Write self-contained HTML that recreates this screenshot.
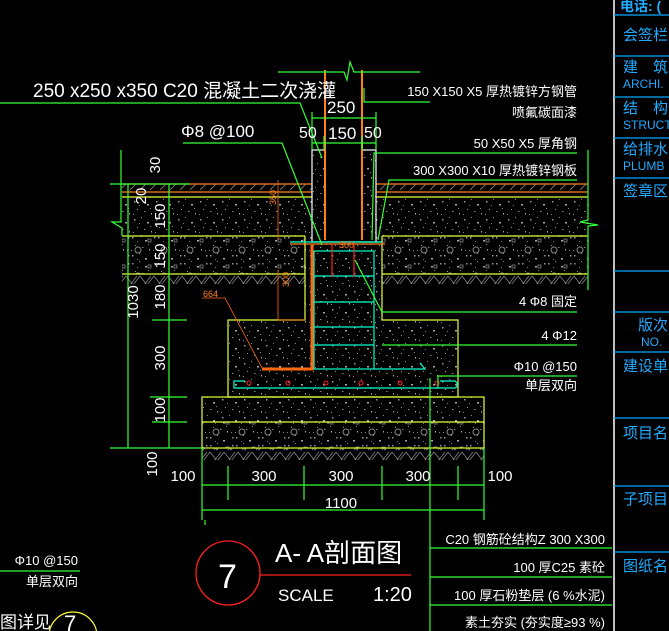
<!DOCTYPE html>
<html><head><meta charset="utf-8"><style>
html,body{margin:0;padding:0;background:#000;}
svg{display:block}
text{font-family:"Liberation Sans","Noto Sans CJK SC",sans-serif;}
</style></head><body>
<svg width="669" height="631" viewBox="0 0 669 631" xmlns="http://www.w3.org/2000/svg">
<defs>
<pattern id="conc" width="22" height="18" patternUnits="userSpaceOnUse">
<rect x="2" y="3" width="1.5" height="1.5" fill="#999"/><rect x="9" y="1" width="1" height="1" fill="#888"/>
<rect x="15" y="6" width="2" height="1.5" fill="#aaa"/><rect x="5" y="11" width="1" height="1" fill="#999"/>
<rect x="12" y="13" width="1.5" height="1" fill="#888"/><rect x="19" y="15" width="1" height="1.5" fill="#aaa"/>
<rect x="7" y="7" width="1" height="1" fill="#777"/><rect x="18" y="10" width="1" height="1" fill="#888"/>
<rect x="1" y="16" width="1" height="1" fill="#888"/>
</pattern>
<pattern id="grav" width="26" height="26" patternUnits="userSpaceOnUse">
<rect width="26" height="26" fill="url(#conc)"/>
<circle cx="8" cy="16" r="3" fill="none" stroke="#888" stroke-width="1"/>
<rect x="18" y="5" width="3" height="3" fill="none" stroke="#888" stroke-width="0.8"/>
</pattern>
<pattern id="hatch" width="10" height="10" patternUnits="userSpaceOnUse">
<path d="M0 10 L8 2" stroke="#888" stroke-width="0.8"/>
</pattern>
<pattern id="zz" width="14" height="11" patternUnits="userSpaceOnUse">
<path d="M0 1 L7 10 L14 1 M4 10 L11 1" stroke="#888" stroke-width="0.8" fill="none"/>
</pattern>
</defs>

<!-- ground layers -->
<rect x="122" y="184" width="466" height="8" fill="url(#hatch)"/>
<rect x="122" y="197" width="466" height="39" fill="url(#conc)"/>
<rect x="122" y="236" width="466" height="38" fill="url(#grav)"/>
<rect x="122" y="274" width="183" height="10" fill="url(#zz)"/>
<rect x="382" y="274" width="206" height="10" fill="url(#zz)"/>
<!-- pedestal & footing -->
<rect x="305" y="236" width="77" height="84" fill="#000"/>
<rect x="305" y="236" width="77" height="84" fill="url(#conc)"/>
<rect x="228" y="320" width="230" height="77" fill="url(#conc)"/>
<rect x="202" y="397" width="282" height="25" fill="url(#conc)"/>
<rect x="202" y="422" width="282" height="26" fill="url(#grav)"/>
<rect x="202" y="448" width="282" height="12" fill="url(#zz)"/>
<!-- column sleeve -->
<rect x="312" y="150" width="64" height="92" fill="#000"/>
<rect x="312" y="152" width="12" height="88" fill="url(#conc)"/>
<rect x="362" y="152" width="14" height="88" fill="url(#conc)"/>

<g fill="none" stroke-width="1.2">
<line x1="122" y1="184" x2="312" y2="184" stroke="#ff7f1e"/>
<line x1="376" y1="184" x2="588" y2="184" stroke="#ff7f1e"/>
<line x1="122" y1="192" x2="312" y2="192" stroke="#ff7f1e"/>
<line x1="376" y1="192" x2="588" y2="192" stroke="#ff7f1e"/>
<line x1="122" y1="197" x2="312" y2="197" stroke="#e6ff3a"/>
<line x1="376" y1="197" x2="588" y2="197" stroke="#e6ff3a"/>
<line x1="122" y1="236" x2="305" y2="236" stroke="#e6ff3a"/>
<line x1="382" y1="236" x2="588" y2="236" stroke="#e6ff3a"/>
<line x1="122" y1="274" x2="305" y2="274" stroke="#e6ff3a"/>
<line x1="382" y1="274" x2="588" y2="274" stroke="#e6ff3a"/>
<polyline points="305,236 305,320 228,320 228,397 458,397 458,320 382,320 382,236" stroke="#e6ff3a"/>
<rect x="202" y="397" width="282" height="51" stroke="#e6ff3a"/>
<line x1="202" y1="422" x2="484" y2="422" stroke="#e6ff3a"/>
<!-- sleeve white -->
<polyline points="312,150 312,242 380,242 376,242 376,150" stroke="#fff"/>
<line x1="312" y1="150" x2="324" y2="150" stroke="#fff"/>
<line x1="362" y1="150" x2="376" y2="150" stroke="#fff"/>
<!-- column orange -->
<line x1="325" y1="70" x2="325" y2="240" stroke="#ff7f1e" stroke-width="2"/>
<line x1="362" y1="70" x2="362" y2="240" stroke="#ff7f1e" stroke-width="2"/>
<polyline points="278,72 344,72 347,80 350,62 354,72 420,72" stroke="#33ff33"/>
<!-- plate -->
<line x1="290" y1="242" x2="382" y2="242" stroke="#00ffcc"/>
<line x1="290" y1="244" x2="385" y2="244" stroke="#ff7f1e"/>
<!-- stirrups -->
<rect x="314" y="251" width="60" height="118" stroke="#00ffcc"/>
<line x1="314" y1="276" x2="374" y2="276" stroke="#00ffcc"/>
<line x1="314" y1="302" x2="374" y2="302" stroke="#00ffcc"/>
<line x1="314" y1="327" x2="374" y2="327" stroke="#00ffcc"/>
<line x1="314" y1="345" x2="374" y2="345" stroke="#00ffcc"/>
<polyline points="374,369 425,369 420,363" stroke="#00ffcc"/>
<path d="M245 381 L234 381 L234 388 L455 388 Q460 385 455 381 L440 381" stroke="#00ffcc"/>
<line x1="332" y1="243" x2="332" y2="277" stroke="#ff2020"/>
<line x1="354" y1="243" x2="354" y2="277" stroke="#ff2020"/>
<!-- orange bent bar -->
<polyline points="312,245 312,369 262,369" stroke="#ff6a10" stroke-width="3"/>
<polyline points="278,270 278,320 305,320" stroke="#ff6a10" stroke-width="0.8"/>
<line x1="278" y1="180" x2="278" y2="240" stroke="#ff6a10" stroke-width="0.8"/>
<polyline points="202,298 225,298 262,368" stroke="#ff6a10" stroke-width="0.8"/>
<!-- red dots -->
<g stroke="#ff2020" stroke-width="1"><circle cx="249" cy="383" r="2"/><circle cx="288" cy="383" r="2"/><circle cx="326" cy="383" r="2"/><circle cx="361" cy="383" r="2"/><circle cx="400" cy="383" r="2"/><circle cx="437" cy="383" r="2"/></g>

<!-- leaders -->
<g stroke="#33ff33">
<polyline points="0,103 300,103 322,158"/>
<polyline points="183,143 282,143 322,245"/>
<polyline points="430,102 364,102 364,88"/>
<polyline points="577,153 374,153 372,240"/>
<polyline points="577,180 389,180 378,240"/>
<polyline points="577,312 382,312 355,260"/>
<line x1="382" y1="345" x2="577" y2="345"/>
<polyline points="577,376 438,376 438,388"/>
<line x1="430" y1="378" x2="430" y2="631"/>
<line x1="312" y1="118" x2="376" y2="118"/><line x1="312" y1="143" x2="376" y2="143"/>
<line x1="312" y1="112" x2="312" y2="150"/><line x1="376" y1="112" x2="376" y2="150"/>
<line x1="324" y1="136" x2="324" y2="150"/><line x1="362" y1="136" x2="362" y2="150"/>
<!-- left dims -->
<line x1="128" y1="184" x2="128" y2="448"/><line x1="169" y1="184" x2="169" y2="448"/>
<line x1="110" y1="184" x2="190" y2="184"/>
<line x1="110" y1="448" x2="202" y2="448"/>
<line x1="152" y1="320" x2="187" y2="320"/><line x1="150" y1="397" x2="187" y2="397"/><line x1="152" y1="422" x2="187" y2="422"/>
<polyline points="121,150 121,222 112,222 122,228 122,236"/>
<polyline points="588,150 588,220 580,222 598,225 588,226 588,290"/>
<!-- bottom dims -->
<line x1="202" y1="448" x2="202" y2="520"/><line x1="484" y1="448" x2="484" y2="520"/>
<line x1="228" y1="466" x2="228" y2="500"/><line x1="304" y1="466" x2="304" y2="500"/>
<line x1="382" y1="466" x2="382" y2="500"/><line x1="458" y1="466" x2="458" y2="500"/>
<line x1="202" y1="485" x2="484" y2="485"/><line x1="202" y1="510" x2="484" y2="510"/>
<!-- bottom right table -->
<line x1="430" y1="548" x2="612" y2="548"/><line x1="430" y1="577" x2="612" y2="577"/><line x1="430" y1="605" x2="612" y2="605"/>
<line x1="0" y1="571" x2="80" y2="571"/>
<line x1="205" y1="520" x2="205" y2="525"/>
</g>

<!-- right title panel -->
<line x1="614" y1="0" x2="614" y2="631" stroke="#fff" stroke-width="1.5"/>
<g stroke="#00aaff">
<line x1="614" y1="15" x2="669" y2="15"/><line x1="614" y1="56" x2="669" y2="56"/><line x1="614" y1="97" x2="669" y2="97"/>
<line x1="614" y1="138" x2="669" y2="138"/><line x1="614" y1="178" x2="669" y2="178"/><line x1="614" y1="271" x2="669" y2="271"/>
<line x1="614" y1="312" x2="669" y2="312"/><line x1="614" y1="352" x2="669" y2="352"/><line x1="614" y1="418" x2="669" y2="418"/>
<line x1="614" y1="486" x2="669" y2="486"/><line x1="614" y1="552" x2="669" y2="552"/>
</g>
<g fill="#22aaff" font-size="15">
<text x="620" y="11" font-weight="bold" font-size="14">电话: (</text>
<text x="623" y="40">会签栏</text>
<text x="623" y="72">建　筑</text><text x="623" y="88" font-size="12">ARCHI.</text>
<text x="623" y="113">结　构</text><text x="623" y="129" font-size="12">STRUCT</text>
<text x="623" y="154">给排水</text><text x="623" y="170" font-size="12">PLUMB</text>
<text x="623" y="196">签章区</text>
<text x="638" y="330">版次</text><text x="641" y="346" font-size="12">NO.</text>
<text x="623" y="371">建设单</text><text x="623" y="438">项目名</text>
<text x="623" y="504">子项目</text><text x="623" y="571">图纸名</text>
</g>

<!-- texts -->
<g fill="#fff">
<text x="33" y="97" font-size="19">250 x250 x350  C20 混凝土二次浇灌</text>
<text x="181" y="137" font-size="17">Φ8 @100</text>
<text x="327" y="113" font-size="17">250</text>
<text x="299" y="138" font-size="16">50</text><text x="328" y="139" font-size="17">150</text><text x="364" y="138" font-size="16">50</text>
<g font-size="13" text-anchor="end">
<text x="577" y="96">150 X150 X5 厚热镀锌方钢管</text>
<text x="577" y="117">喷氟碳面漆</text>
<text x="577" y="148">50 X50 X5 厚角钢</text>
<text x="577" y="175">300 X300 X10 厚热镀锌钢板</text>
<text x="577" y="306">4 Φ8 固定</text>
<text x="577" y="340">4 Φ12</text>
<text x="577" y="371">Φ10 @150</text>
<text x="577" y="390">单层双向</text>
<text x="605" y="544">C20 钢筋砼结构Z  300 X300</text>
<text x="605" y="572">100 厚C25 素砼</text>
<text x="605" y="600">100 厚石粉垫层 (6 %水泥)</text>
<text x="605" y="627">素土夯实 (夯实度≥93 %)</text>
<text x="78" y="565">Φ10 @150</text>
<text x="78" y="586">单层双向</text>
</g>
<g font-size="15" text-anchor="middle">
<text x="183" y="481">100</text><text x="264" y="481">300</text><text x="341" y="481">300</text><text x="418" y="481">300</text><text x="500" y="481">100</text>
<text x="341" y="508">1100</text>
</g>
<g font-size="15" text-anchor="middle">
<text transform="translate(160,165) rotate(-90)">30</text>
<text transform="translate(146,196) rotate(-90)">20</text>
<text transform="translate(165,216) rotate(-90)">150</text>
<text transform="translate(165,256) rotate(-90)">150</text>
<text transform="translate(138,302) rotate(-90)">1030</text>
<text transform="translate(165,297) rotate(-90)">180</text>
<text transform="translate(165,358) rotate(-90)">300</text>
<text transform="translate(165,410) rotate(-90)">100</text>
<text transform="translate(157,464) rotate(-90)">100</text>
</g>
<text x="275" y="562" font-size="26">A- A剖面图</text>
<text x="278" y="601" font-size="17">SCALE</text>
<text x="373" y="601" font-size="20">1:20</text>
<text x="0" y="628" font-size="17">图详见</text>
</g>
<g fill="#ff7f1e" font-size="9">
<text x="203" y="297">664</text>
<text x="339" y="248">300</text>
<text transform="translate(289,287) rotate(-90)">300</text>
<text transform="translate(276,205) rotate(-90)">350</text>
</g>
<circle cx="228" cy="573" r="32" fill="none" stroke="#ff2020" stroke-width="1.3"/>
<text x="218" y="588" font-size="34" fill="#fff">7</text>
<line x1="260" y1="575" x2="411" y2="575" stroke="#ff2020" stroke-width="1.3"/>
<circle cx="73" cy="636" r="24" fill="none" stroke="#ffff33" stroke-width="1.2"/>
<text x="64" y="631" font-size="22" fill="#fff">7</text>
</svg>
</body></html>
